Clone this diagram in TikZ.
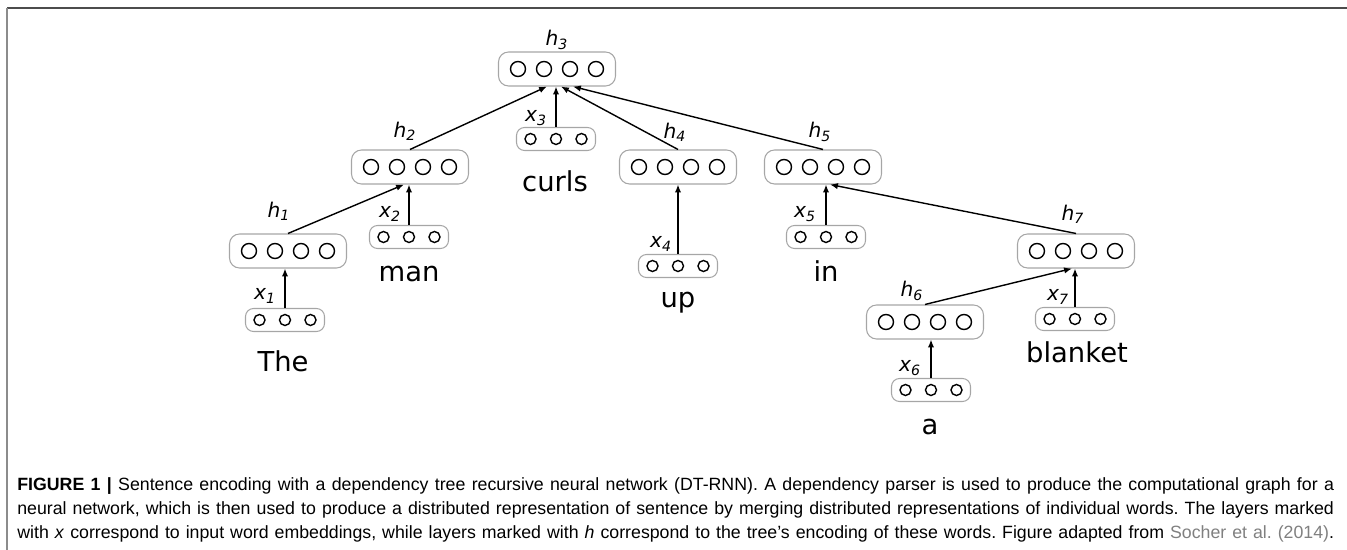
\documentclass[tikz,border=0pt]{standalone}
\usepackage{fontspec}
\setmainfont{DejaVu Sans}
\newfontfamily\capfont{Liberation Sans}
\usepackage{tikz}
\usetikzlibrary{arrows.meta}

% layer label: italic letter with a subscript index
\newcommand{\vlab}[2]{\textit{#1}\textsubscript{\textit{#2}}}

\tikzset{
  hvec/.style={draw=black!35, line width=0.6pt, rounded corners=0.2cm,
    minimum width=2.34cm, minimum height=0.68cm, inner sep=0pt},
  xvec/.style={draw=black!35, line width=0.6pt, rounded corners=0.16cm,
    minimum width=1.58cm, minimum height=0.46cm, inner sep=0pt},
  unit/.style={line width=0.8pt},
  lab/.style={font=\fontsize{11.5}{13}\selectfont},
  word/.style={font=\fontsize{15.6}{18}\selectfont, anchor=mid},
  arr/.style={line width=0.8pt, -{Latex[length=4.5pt,width=3.6pt]}},
  capline/.style={anchor=base west, inner sep=0pt,
    font=\capfont\fontsize{10.1}{12}\selectfont\frenchspacing}
}

\begin{document}
\begin{tikzpicture}[x=0.02cm, y=-0.02cm]
    \useasboundingbox (0,0) rectangle (1347,550);

    % frame
    \draw[black!70, line width=0.04cm] (7,8) -- (1347,8);
    \draw[black!45, line width=0.04cm] (7,8) -- (7,550);

    % hidden layers
    \node[hvec] (h3) at (557,69) {};
    \node[hvec] (h2) at (410,167) {};
    \node[hvec] (h1) at (288,251) {};
    \node[hvec] (h4) at (678,167) {};
    \node[hvec] (h5) at (823,167) {};
    \node[hvec] (h7) at (1076,251) {};
    \node[hvec] (h6) at (925,322) {};

    % word embeddings
    \node[xvec] (x1) at (285,320) {};
    \node[xvec] (x2) at (409,237) {};
    \node[xvec] (x3) at (556,139) {};
    \node[xvec] (x4) at (678,266) {};
    \node[xvec] (x5) at (826,237) {};
    \node[xvec] (x6) at (931,390) {};
    \node[xvec] (x7) at (1075,319) {};

    % units inside the vectors
    \foreach \n in {1,...,7} {
        \foreach \k in {-1.5,-0.5,0.5,1.5}
            \draw[unit] ([xshift=\k*0.52cm]h\n.center) circle (0.15cm);
        \foreach \k in {-1,0,1}
            \draw[unit] ([xshift=\k*0.51cm]x\n.center) circle (0.11cm);
    }

    % labels
    \node[lab] (lh3) at (557,40) {\vlab{h}{3}};
    \node[lab] (lh2) at (405,131) {\vlab{h}{2}};
    \node[lab] (lh1) at (279,211) {\vlab{h}{1}};
    \node[lab] (lh4) at (675,132) {\vlab{h}{4}};
    \node[lab] (lh5) at (820,132) {\vlab{h}{5}};
    \node[lab] (lh7) at (1073,214) {\vlab{h}{7}};
    \node[lab] (lh6) at (912,291) {\vlab{h}{6}};
    \node[lab] (lx1) at (265,296) {\vlab{x}{1}};
    \node[lab] (lx2) at (390,214) {\vlab{x}{2}};
    \node[lab] (lx3) at (536,118) {\vlab{x}{3}};
    \node[lab] (lx4) at (661,244) {\vlab{x}{4}};
    \node[lab] (lx5) at (805,214) {\vlab{x}{5}};
    \node[lab] (lx6) at (910,368) {\vlab{x}{6}};
    \node[lab] (lx7) at (1058,297) {\vlab{x}{7}};

    % words
    \node[word] (wThe) at (283,367) {The};
    \node[word] (wman) at (409,277) {man};
    \node[word] (wcurls) at (555,187) {curls};
    \node[word] (wup) at (678,303) {up};
    \node[word] (win) at (826,277) {in};
    \node[word] (wa) at (930,430) {a};
    \node[word] (wblanket) at (1077,358) {blanket};

    % inputs to their layers
    \foreach \n in {1,...,7}
        \draw[arr] (x\n.north) -- (x\n.north |- h\n.south);

    % tree edges
    \draw[arr] (h1.north) -- ([xshift=-0.12cm]h2.south);
    \draw[arr] (h2.north) -- ([xshift=-0.2cm]h3.south);
    \draw[arr] (h4.north) -- ([xshift=0.08cm]h3.south);
    \draw[arr] (h5.north) -- ([xshift=0.32cm]h3.south);
    \draw[arr] (h7.north) -- ([xshift=0.14cm]h5.south);
    \draw[arr] (h6.north) -- ([xshift=-0.08cm]h7.south);

    % caption
    \node[capline] (cap1) at (17,491) {\makebox[26.34cm][s]{\textbf{FIGURE 1 |} Sentence encoding with a dependency tree recursive neural network (DT-RNN). A dependency parser is used to produce the computational graph for a}};
    \node[capline] (cap2) at (17,515) {\makebox[26.34cm][s]{neural network, which is then used to produce a distributed representation of sentence by merging distributed representations of individual words. The layers marked}};
    \node[capline] (cap3) at (17,539) {\makebox[26.34cm][s]{with \textit{x} correspond to input word embeddings, while layers marked with \textit{h} correspond to the tree’s encoding of these words. Figure adapted from {\color{black!50}Socher et al. (2014)}.}};
\end{tikzpicture}
\end{document}
